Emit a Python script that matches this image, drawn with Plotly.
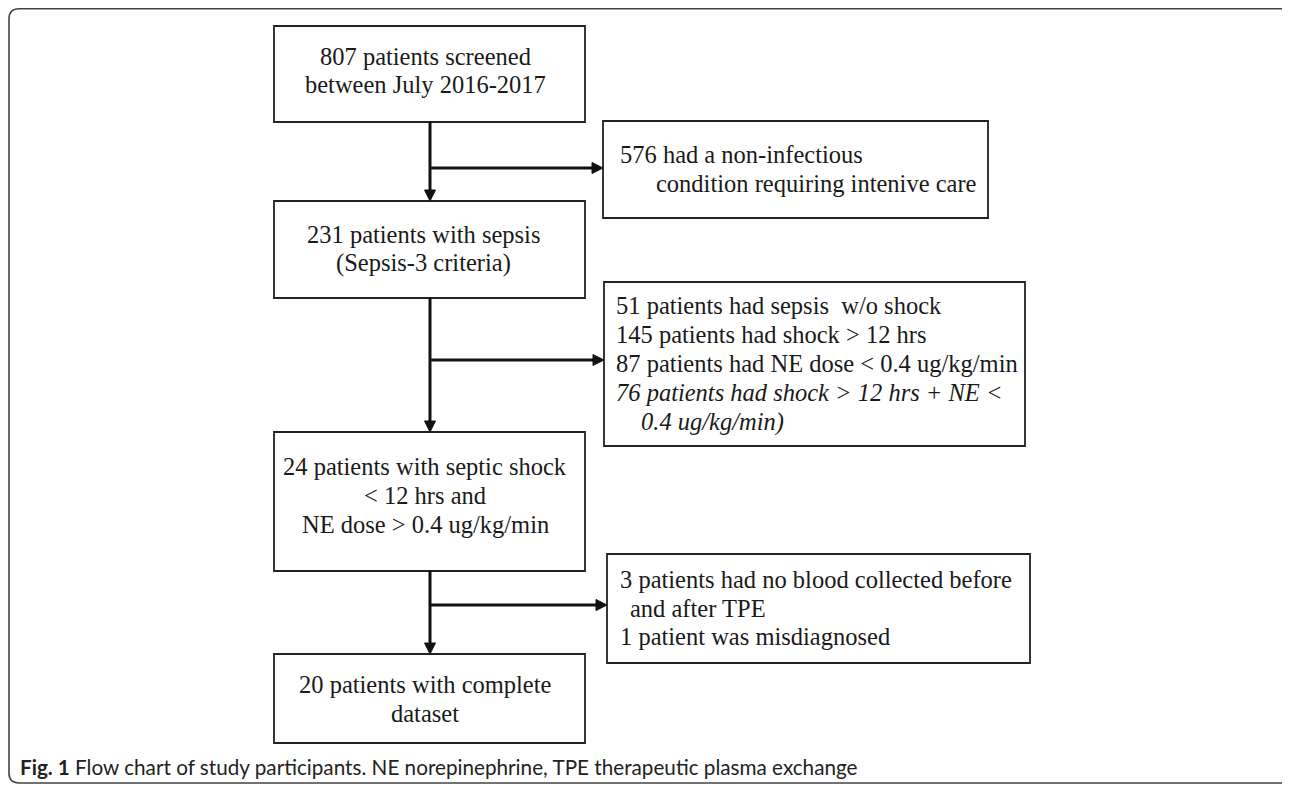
import plotly.graph_objects as go

W, H = 1290, 787
OFF = 8  # page body margin offset, so data coords equal page pixels

# ---- content ----
screened_lines = ["807 patients screened", "between July 2016-2017"]
excluded1_lines = ["576 had a non-infectious", "condition requiring intenive care"]
sepsis_lines = ["231 patients with sepsis", "(Sepsis-3 criteria)"]
excluded2_lines = ["51 patients had sepsis  w/o shock",
                   "145 patients had shock > 12 hrs",
                   "87 patients had NE dose < 0.4 ug/kg/min",
                   "<i>76 patients had shock > 12 hrs + NE <</i>",
                   "<i>0.4 ug/kg/min)</i>"]
shock_lines = ["24 patients with septic shock", "< 12 hrs and", "NE dose > 0.4 ug/kg/min"]
excluded3_lines = ["3 patients had no blood collected before", "and after TPE",
                   "1 patient was misdiagnosed"]
final_lines = ["20 patients with complete", "dataset"]
caption_bold = "Fig. 1"
caption_text = " Flow chart of study participants. NE norepinephrine, TPE therapeutic plasma exchange"

# ---- layout (pixel geometry) ----
boxes = [
    dict(rect=(274, 26, 585, 122), lines=screened_lines, align="center", cx=425, base=[65, 93]),
    dict(rect=(603, 121, 988, 218), lines=excluded1_lines, align="left", lx=[618, 654], base=[163, 192]),
    dict(rect=(274, 201, 585, 298), lines=sepsis_lines, align="center", cx=423, base=[243, 271]),
    dict(rect=(604, 282, 1025, 446), lines=excluded2_lines, align="left",
         lx=[614, 614, 614, 614, 639], base=[314, 343, 372, 401, 430]),
    dict(rect=(274, 432, 585, 571), lines=shock_lines, align="center", cx=425, base=[475, 504, 533]),
    dict(rect=(607, 554, 1030, 663), lines=excluded3_lines, align="left",
         lx=[618, 628, 618], base=[588, 617, 645]),
    dict(rect=(274, 654, 585, 743), lines=final_lines, align="center", cx=425, base=[693, 722]),
]
spine_x = 430
flows = [  # (y_start, y_end, branch_y, branch_x_end)
    (122, 201, 168, 603),
    (298, 432, 360, 604),
    (571, 654, 605, 607),
]

FS = 24.5
FONT = "Liberation Serif, Times New Roman, serif"

fig = go.Figure()
shapes = []
annotations = []

# outer frame with rounded corners (right side runs off the page)
r = 10
fx0, fy0, fx1, fy1 = 9, 8.8, 1300, 783
frame = (f"M {fx0+r},{fy0} L {fx1-r},{fy0} Q {fx1},{fy0} {fx1},{fy0+r} "
         f"L {fx1},{fy1-r} Q {fx1},{fy1} {fx1-r},{fy1} L {fx0+r},{fy1} "
         f"Q {fx0},{fy1} {fx0},{fy1-r} L {fx0},{fy0+r} Q {fx0},{fy0} {fx0+r},{fy0} Z")
shapes.append(dict(type="path", path=frame, xref="x", yref="y",
                   line=dict(color="#444444", width=1.6), fillcolor="rgba(0,0,0,0)"))

for b in boxes:
    x0, y0, x1, y1 = b["rect"]
    shapes.append(dict(type="rect", x0=x0, y0=y0, x1=x1, y1=y1, xref="x", yref="y",
                       line=dict(color="#222222", width=1.8), fillcolor="white"))
    for i, txt in enumerate(b["lines"]):
        if b["align"] == "center":
            x, xa = b["cx"], "center"
        else:
            x, xa = b["lx"][i], "left"
        annotations.append(dict(x=x, y=b["base"][i] - 0.33 * FS, xref="x", yref="y",
                                text=txt, showarrow=False, xanchor=xa, yanchor="middle",
                                font=dict(family=FONT, size=FS, color="#1a1a1a")))

AH_L, AH_W = 11, 5.5
for ys, ye, by, bx in flows:
    shapes.append(dict(type="line", x0=spine_x, y0=ys, x1=spine_x, y1=ye - AH_L + 1,
                       xref="x", yref="y", line=dict(color="#111111", width=3)))
    shapes.append(dict(type="path", xref="x", yref="y",
                       path=f"M {spine_x-AH_W},{ye-AH_L} L {spine_x+AH_W},{ye-AH_L} L {spine_x},{ye} Z",
                       fillcolor="#111111", line=dict(color="#111111", width=1)))
    shapes.append(dict(type="line", x0=spine_x, y0=by, x1=bx - AH_L + 1, y1=by,
                       xref="x", yref="y", line=dict(color="#111111", width=3)))
    shapes.append(dict(type="path", xref="x", yref="y",
                       path=f"M {bx-AH_L},{by-AH_W} L {bx-AH_L},{by+AH_W} L {bx},{by} Z",
                       fillcolor="#111111", line=dict(color="#111111", width=1)))

annotations.append(dict(x=18, y=767, xref="x", yref="y", xanchor="left", yanchor="middle",
                        showarrow=False,
                        text=f"<b>{caption_bold}</b>{caption_text}",
                        font=dict(family="Lato, sans-serif", size=20.7, color="#222222")))

fig.add_trace(go.Scatter(x=[OFF, W + OFF], y=[OFF, H + OFF], mode="markers",
                         marker=dict(opacity=0), hoverinfo="skip", showlegend=False))
fig.update_layout(width=W, height=H, margin=dict(l=0, r=0, t=0, b=0),
                  paper_bgcolor="white", plot_bgcolor="white",
                  xaxis=dict(range=[OFF, W + OFF], visible=False, fixedrange=True),
                  yaxis=dict(range=[H + OFF, OFF], visible=False, fixedrange=True),
                  shapes=shapes, annotations=annotations, showlegend=False)
fig.write_html("out.html")
